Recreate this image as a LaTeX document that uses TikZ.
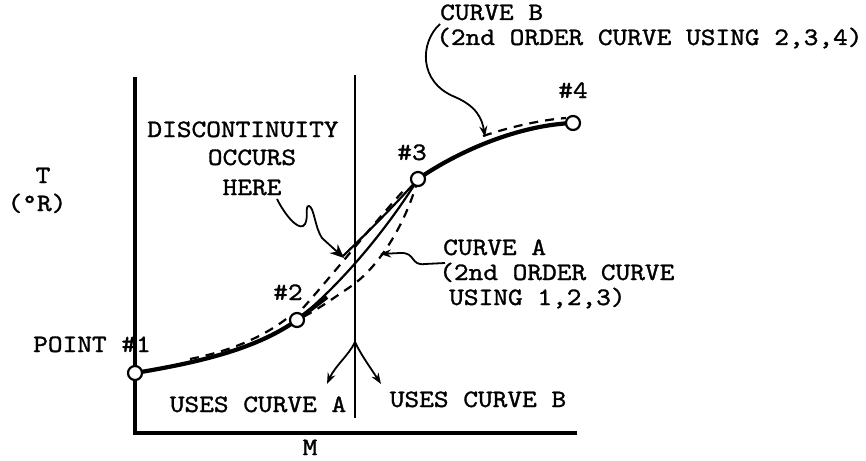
\documentclass[tikz,border=0pt]{standalone}
\usepackage{fontspec}
\newfontfamily\tw{lmmono10-regular}[Extension=.otf,FakeBold=1.2,FakeStretch=1.12]
\usetikzlibrary{arrows.meta}
\begin{document}
\begin{tikzpicture}[x=1pt,y=-1pt,
  lbl/.style={font=\tw\fontsize{25}{28}\selectfont,inner sep=0pt,anchor=base},
  lblw/.style={lbl,anchor=base west},
  pt/.style={circle,draw,fill=white,line width=2.2pt,minimum size=14pt,inner sep=0pt},
  axis/.style={line width=3.5pt},
  thickc/.style={line width=4.2pt},
  thinc/.style={line width=2.2pt},
  dashc/.style={line width=2.2pt,dash pattern=on 9pt off 7pt},
  lead/.style={line width=1.8pt,-{Stealth[length=11pt,width=8pt]}}]
\useasboundingbox (0,0) rectangle (866,460);
% points
\coordinate (c1) at (135,373);
\coordinate (c2) at (297,320);
\coordinate (c3) at (418,179);
\coordinate (c4) at (573,123);
% axes and divider
\coordinate (ytop) at (135,77);
\coordinate (orig) at (135,433);
\coordinate (xend) at (577,433);
\coordinate (dtop) at (355,75);
\coordinate (dbot) at (355,418);
\draw[axis] (ytop) -- (orig) -- (xend);
\draw[line width=2.2pt] (dtop) -- (dbot);
% main curve
\draw[thickc] (c1) .. controls (195,363) and (255,350) .. (c2);
\draw[dashc] (190,359) .. controls (225,352) and (260,340) .. (290,316);
\draw[thickc] (c2) -- (327,297);
\draw[thinc] (c2) .. controls (340,285) and (385,232) .. (c3);
\draw[thinc] (343,256) .. controls (368,232) and (392,208) .. (c3);
\draw[dashc] (303,308) .. controls (335,272) and (378,218) .. (406,188);
\draw[dashc] (c3) .. controls (405,226) and (378,268) .. (350,287) .. controls (332,299) and (316,311) .. (c2);
\draw[thickc] (c3) .. controls (460,150) and (520,125) .. (c4);
\draw[dashc] (483,136) .. controls (510,127) and (540,120) .. (566,118);
% point markers
\node[pt] (p1) at (c1) {};
\node[pt] (p2) at (c2) {};
\node[pt] (p3) at (c3) {};
\node[pt] (p4) at (c4) {};
% labels
\node[lblw] (cb) at (440,20) {CURVE B};
\node[lblw] (cb2) at (436,45) {(2nd ORDER CURVE USING 2,3,4)};
\node[lbl] (l4) at (573,98) {\#4};
\node[lbl] (d1) at (243,137) {DISCONTINUITY};
\node[lbl] (d2) at (252,165) {OCCURS};
\node[lbl] (d3) at (252,195) {HERE};
\node[lbl] (l3) at (412,160) {\#3};
\node[lbl] (tl) at (43,183) {T};
\node[lbl] (tu) at (37,211) {(°R)};
\node[lblw] (ca) at (443,255) {CURVE A};
\node[lblw] (ca2) at (439,280) {(2nd ORDER CURVE};
\node[lblw] (ca3) at (449,305) {USING 1,2,3)};
\node[lbl] (l2) at (288,300) {\#2};
\node[lbl] (l1) at (92,352) {POINT \#1};
\node[lbl] (ua) at (258,412) {USES CURVE A};
\node[lbl] (ub) at (478,407) {USES CURVE B};
\node[lbl] (m) at (310,455) {M};
% leaders
\coordinate (cbs) at (440,24);
\coordinate (cbt) at (485,137);
\draw[lead] (cbs) .. controls (420,42) and (418,82) .. (455,97) .. controls (476,106) and (482,118) .. (cbt);
\coordinate (cas) at (445,263);
\coordinate (cat) at (380,254);
\draw[lead] (cas) -- (425,264) .. controls (410,266) and (416,252) .. (400,253) -- (cat);
\coordinate (dss) at (277,199);
\coordinate (dst) at (344,258);
\draw[line width=1.8pt,-{Stealth[length=14pt,width=12pt]}] (dss) .. controls (285,215) and (297,229) .. (303,226) .. controls (310,222) and (304,205) .. (309,206) .. controls (314,207) and (315,228) .. (322,238) -- (dst);
% fork
\coordinate (fk) at (355,342);
\coordinate (fa) at (327,384);
\coordinate (fb) at (381,384);
\draw[lead] (fk) .. controls (349,355) and (335,366) .. (fa);
\draw[lead] (fk) .. controls (361,355) and (372,370) .. (fb);
\end{tikzpicture}
\end{document}
